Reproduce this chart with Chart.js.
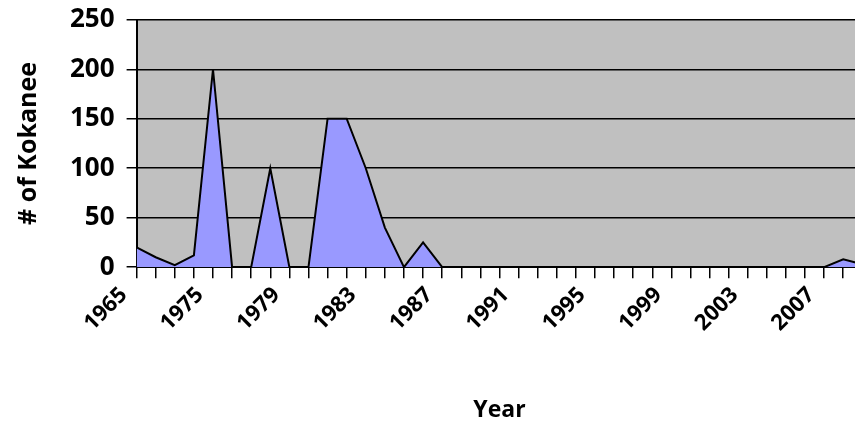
<!DOCTYPE html>
<html>
<head>
<meta charset="utf-8">
<script src="https://cdn.jsdelivr.net/npm/chart.js@4/dist/chart.umd.min.js"></script>
<style>
    html, body { margin: 0; padding: 0; background: #fff; overflow: hidden; }
    #wrap { width: 855px; height: 426px; overflow: hidden; }
</style>
</head>
<body>
<div id="wrap"><canvas id="kokaneeChart" width="885" height="426"></canvas></div>
<script>
// Survey years (first few are not yearly)
const years = [
    '1965', '1970', '1972', '1974', '1975', '1976', '1977', '1978', '1979', '1980',
    '1981', '1982', '1983', '1984', '1985', '1986', '1987', '1988', '1989', '1990',
    '1991', '1992', '1993', '1994', '1995', '1996', '1997', '1998', '1999', '2000',
    '2001', '2002', '2003', '2004', '2005', '2006', '2007', '2008', '2009'
];

// Number of kokanee counted each year
const kokanee = [
    20, 10, 2, 12, 200, 0, 0, 100, 0, 0,
    150, 150, 100, 40, 0, 25, 0, 0, 0, 0,
    0, 0, 0, 0, 0, 0, 0, 0, 0, 0,
    0, 0, 0, 0, 0, 0, 0, 8, 3
];

const yTicks = [0, 50, 100, 150, 200, 250];

// grey plot background
const plotBackground = {
    id: 'plotBackground',
    beforeDraw(chart) {
        const { ctx, chartArea } = chart;
        ctx.save();
        ctx.fillStyle = '#C0C0C0';
        ctx.fillRect(chartArea.left, chartArea.top, chartArea.right - chartArea.left, chartArea.bottom - chartArea.top);
        ctx.restore();
    }
};

const ctx = document.getElementById('kokaneeChart').getContext('2d');
new Chart(ctx, {
    type: 'line',
    data: {
        labels: years,
        datasets: [{
            label: '# of Kokanee',
            data: kokanee,
            borderColor: '#000000',
            backgroundColor: '#9999FF',
            borderWidth: 2,
            pointRadius: 0,
            tension: 0,
            fill: 'origin'
        }]
    },
    options: {
        responsive: false,
        animation: false,
        layout: { padding: { left: 14, top: 0, right: 0, bottom: 2 } },
        plugins: {
            legend: { display: false },
            tooltip: { enabled: false }
        },
        scales: {
            x: {
                offset: false,
                grid: { drawOnChartArea: false, drawTicks: true, tickLength: 11, color: '#000', lineWidth: 1.5 },
                border: { display: true, color: '#000', width: 2 },
                ticks: {
                    autoSkip: false,
                    maxRotation: 45,
                    minRotation: 45,
                    color: '#000',
                    padding: 4,
                    labelOffset: -13,
                    font: { family: 'Open Sans', weight: 'bold', size: 22 },
                    callback: (v, i) => (i % 4 === 0 ? years[i] : '')
                },
                title: {
                    display: true,
                    text: 'Year',
                    color: '#000',
                    font: { family: 'Open Sans', weight: 'bold', size: 23 },
                    padding: { top: 56, bottom: 0 }
                }
            },
            y: {
                min: 0,
                max: 250,
                afterBuildTicks: axis => { axis.ticks = yTicks.map(v => ({ value: v })); },
                grid: { color: '#000', lineWidth: 1.5, tickLength: 10 },
                border: { display: true, color: '#000', width: 2 },
                ticks: {
                    color: '#000',
                    padding: 12,
                    font: { family: 'Open Sans', weight: 'bold', size: 26, lineHeight: 0.6 }
                },
                title: {
                    display: true,
                    text: '# of Kokanee',
                    color: '#000',
                    font: { family: 'Open Sans', weight: 'bold', size: 25 },
                    padding: { top: 0, bottom: 14 }
                }
            }
        }
    },
    plugins: [plotBackground]
});
</script>
</body>
</html>
